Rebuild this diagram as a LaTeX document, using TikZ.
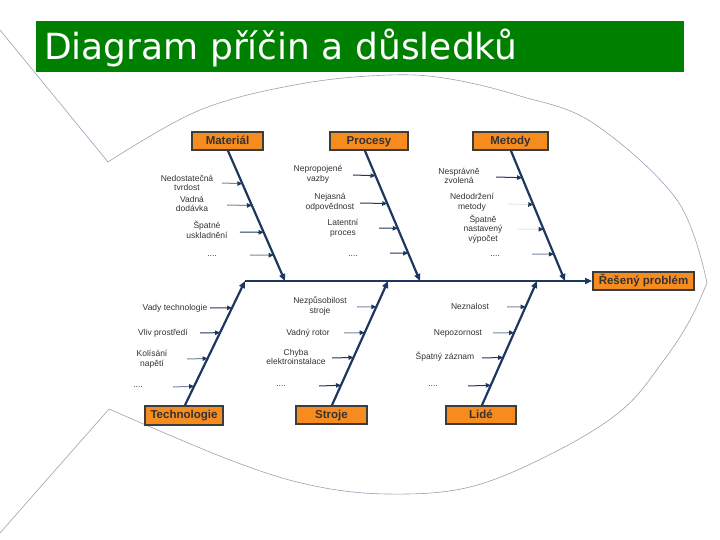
\documentclass[tikz,border=0pt]{standalone}
\usepackage{fontspec}
\setmainfont{Liberation Sans}
\newfontfamily\titlefont{DejaVu Sans}
\usetikzlibrary{arrows.meta,calc}
\definecolor{fishgreen}{RGB}{0,128,0}
\definecolor{boxorange}{RGB}{247,140,30}
\definecolor{boxborder}{RGB}{60,60,60}
\definecolor{navy}{RGB}{30,55,95}
\definecolor{lightnavy}{RGB}{120,135,160}
\definecolor{faint}{RGB}{225,230,236}
\definecolor{outline}{RGB}{150,162,180}
\definecolor{labelgrey}{RGB}{50,50,55}
\newcommand\subarr[7][sub]{\draw[#1] (#7,#6) -- ($(#2)!{(#6-#4)/(#5-#4)}!(#3)$);}
\tikzset{
  catbox/.style={draw=boxborder, line width=1.8pt, fill=boxorange, inner sep=0pt,
    text height=8.5pt, text depth=2.2pt,
    font=\fontsize{11.5}{12}\selectfont\bfseries, text=labelgrey},
  bone/.style={draw=navy, line width=2.2pt, -{Triangle[length=7pt,width=6pt]}},
  sub/.style={draw=navy, line width=1pt, -{Triangle[length=5pt,width=4.5pt,color=navy]}},
  subl/.style={draw=lightnavy, line width=1pt, -{Triangle[length=5pt,width=4.5pt,color=navy]}},
  subf/.style={draw=faint, line width=1pt, -{Triangle[length=5pt,width=4.5pt,color=navy]}},
  lbl/.style={align=center, inner sep=0pt, text=labelgrey, font=\fontsize{8.5}{9.8}\selectfont},
  fish/.style={draw=outline, line width=0.6pt},
}
\begin{document}
\begin{tikzpicture}[x=1pt,y=-1pt]
\useasboundingbox (0,0) rectangle (720,540);
% fish outline
\draw[fish] (0,30) -- (108,162);
\draw[fish] plot[smooth, tension=0.6] coordinates {(108,162) (200,110) (300,84) (390,75) (450,79) (520,96) (593,123) (677,200) (707,283)};
\draw[fish] plot[smooth, tension=0.6] coordinates {(707,283) (690,320) (664,360) (622,410) (553,453) (470,487) (387,494) (310,485) (230,460) (109,409)};
\draw[fish] (109,409) -- (0,533);
% title
\node[fill=fishgreen, minimum width=648pt, minimum height=51pt, inner sep=0pt] (bar) at (360,46.5) {};
\node[anchor=base west, inner sep=0pt, text=white, font=\titlefont\fontsize{36}{40}\selectfont] (title) at (44,60) {Diagram příčin a důsledků};
% boxes
\node[catbox, minimum width=71pt, minimum height=18pt] (mat) at (227.5,141) {Materiál};
\node[catbox, minimum width=78pt, minimum height=18pt] (pro) at (369,141) {Procesy};
\node[catbox, minimum width=75pt, minimum height=18pt] (met) at (510.5,141) {Metody};
\node[catbox, minimum width=78pt, minimum height=19pt] (tec) at (184,415.5) {Technologie};
\node[catbox, minimum width=71pt, minimum height=18pt] (str) at (331.5,415) {Stroje};
\node[catbox, minimum width=70pt, minimum height=18pt] (lid) at (481,415) {Lidé};
\node[catbox, minimum width=101pt, minimum height=18pt] (res) at (643.5,281) {Řešený problém};
% bone coordinates
\coordinate (matA) at ($(mat.south)+(0.5,0)$);
\coordinate (matB) at (285,281);
\coordinate (proA) at ($(pro.south)+(-4,0)$);
\coordinate (proB) at (420,281);
\coordinate (metA) at ($(met.south)+(0.5,0)$);
\coordinate (metB) at (565,281);
\coordinate (tecA) at ($(tec.north)+(1,0)$);
\coordinate (tecB) at (245,281);
\coordinate (strA) at ($(str.north)+(0.5,0)$);
\coordinate (strB) at (388,281);
\coordinate (lidA) at ($(lid.north)+(1,0)$);
\coordinate (lidB) at (537,281);
% spine and bones
\draw[bone] (tecB) -- (res.west);
\draw[bone] (matA) -- (matB);
\draw[bone] (proA) -- (proB);
\draw[bone] (metA) -- (metB);
\draw[bone] (tecA) -- (tecB);
\draw[bone] (strA) -- (strB);
\draw[bone] (lidA) -- (lidB);
% Materiál
\node[lbl] (m1) at (187,183) {Nedostatečná\\tvrdost};
\node[lbl] (m2) at (192,204) {Vadná\\dodávka};
\node[lbl] (m3) at (207,230) {Špatné\\uskladnění};
\node[lbl] (m4) at (212,256) {....};
\subarr[subl]{matA}{matB}{150}{281}{183}{222}
\subarr[subl]{matA}{matB}{150}{281}{205}{227}
\subarr{matA}{matB}{150}{281}{232}{240}
\subarr[subl]{matA}{matB}{150}{281}{255}{250}
% Procesy
\node[lbl] (p1) at (318,174) {Nepropojené\\vazby};
\node[lbl] (p2) at (330,202) {Nejasná\\odpovědnost};
\node[lbl] (p3) at (343,228) {Latentní\\proces};
\node[lbl] (p4) at (353,256) {....};
\subarr{proA}{proB}{150}{281}{175}{353}
\subarr{proA}{proB}{150}{281}{203}{360}
\subarr{proA}{proB}{150}{281}{228}{379}
\subarr{proA}{proB}{150}{281}{253}{390}
% Metody
\node[lbl] (t1) at (459,176) {Nesprávně\\zvolená};
\node[lbl] (t2) at (472,202) {Nedodržení\\metody};
\node[lbl] (t3) at (483,229) {Špatně\\nastavený\\výpočet};
\node[lbl] (t4) at (495,256) {....};
\subarr{metA}{metB}{150}{281}{177}{496}
\subarr[subf]{metA}{metB}{150}{281}{204}{508}
\subarr[subf]{metA}{metB}{150}{281}{229}{518}
\subarr[subl]{metA}{metB}{150}{281}{254}{532}
% Technologie
\node[lbl] (g1) at (175,308) {Vady technologie};
\node[lbl] (g2) at (163,333) {Vliv prostředí};
\node[lbl] (g3) at (152,359) {Kolísání\\napětí};
\node[lbl] (g4) at (138,387) {....};
\subarr{tecA}{tecB}{406}{281}{308}{210}
\subarr{tecA}{tecB}{406}{281}{333}{200}
\subarr[subl]{tecA}{tecB}{406}{281}{359}{187}
\subarr[subl]{tecA}{tecB}{406}{281}{387}{173}
% Stroje
\node[lbl] (s1) at (320,306) {Nezpůsobilost\\stroje};
\node[lbl] (s2) at (308,333) {Vadný rotor};
\node[lbl] (s3) at (296,357) {Chyba\\elektroinstalace};
\node[lbl] (s4) at (281,386) {....};
\subarr[subl]{strA}{strB}{406}{281}{307}{357}
\subarr[subl]{strA}{strB}{406}{281}{333}{344}
\subarr{strA}{strB}{406}{281}{358}{332}
\subarr{strA}{strB}{406}{281}{386}{319}
% Lidé
\node[lbl] (h1) at (470,306) {Neznalost};
\node[lbl] (h2) at (458,333) {Nepozornost};
\node[lbl] (h3) at (445,357) {Špatný záznam};
\node[lbl] (h4) at (433,386) {....};
\subarr[subl]{lidA}{lidB}{406}{281}{307}{507}
\subarr[subl]{lidA}{lidB}{406}{281}{333}{493}
\subarr{lidA}{lidB}{406}{281}{358}{482}
\subarr{lidA}{lidB}{406}{281}{386}{468}
\end{tikzpicture}
\end{document}
